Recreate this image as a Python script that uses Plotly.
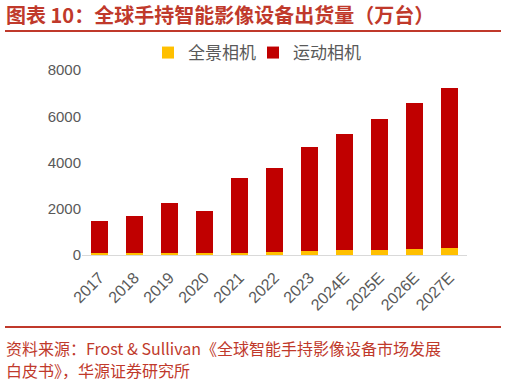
import plotly.graph_objects as go

years = ["2017", "2018", "2019", "2020", "2021", "2022", "2023",
         "2024E", "2025E", "2026E", "2027E"]
panoramic = [70, 75, 80, 90, 100, 130, 170, 195, 230, 260, 290]
totals = [1470, 1690, 2260, 1905, 3330, 3765, 4650, 5235, 5900, 6565, 7230]
action = [t - p for t, p in zip(totals, panoramic)]
yticks = [0, 2000, 4000, 6000, 8000]

title_text = "图表 10：全球手持智能影像设备出货量（万台）"
source_line1 = "资料来源：Frost & Sullivan《全球智能手持影像设备市场发展"
source_line2 = "白皮书》，华源证券研究所"

W, H = 506, 384
L, R, T, B = 82, 39, 70, 129
red_text = "#C0392B"
gray = "#595959"
font_family = "Noto Sans CJK SC, Liberation Sans, Arial, sans-serif"

fig = go.Figure()
fig.add_trace(go.Bar(x=years, y=panoramic, name="全景相机", legend="legend",
                     marker=dict(color="#FFC000", line=dict(width=0))))
fig.add_trace(go.Bar(x=years, y=action, name="运动相机", legend="legend2",
                     marker=dict(color="#C00000", line=dict(width=0))))

pw = W - L - R
ph = H - T - B

def px_x(x):
    return (x - L) / pw

def px_y(y):
    return (H - B - y) / ph

leg_common = dict(orientation="h", xanchor="left", y=px_y(53), yanchor="middle",
                  font=dict(size=17, color=gray, family=font_family),
                  bgcolor="rgba(0,0,0,0)")

fig.update_layout(
    width=W, height=H,
    margin=dict(l=L, r=R, t=T, b=B),
    barmode="stack",
    bargap=0.51,
    plot_bgcolor="white",
    paper_bgcolor="white",
    font=dict(family=font_family, color=gray),
    showlegend=True,
    legend=dict(x=px_x(148), **leg_common),
    legend2=dict(x=px_x(253), **leg_common),
    xaxis=dict(showgrid=False, showline=True, linecolor="#D9D9D9", linewidth=1,
               ticks="", tickangle=-45, ticklabelstandoff=6,
               tickfont=dict(size=16, color=gray, family="Liberation Sans, Arial, sans-serif")),
    yaxis=dict(range=[0, 8000], tickvals=yticks, showgrid=False, showline=False,
               zeroline=False, ticks="",
               tickfont=dict(size=15, color=gray, family="Liberation Sans, Arial, sans-serif")),
)

fig.add_annotation(text="<b>" + title_text + "</b>", xref="paper", yref="paper",
                   x=px_x(4), y=px_y(15), xanchor="left", yanchor="middle",
                   showarrow=False, font=dict(size=20, color=red_text, family=font_family))
fig.add_annotation(text=source_line1, xref="paper", yref="paper",
                   x=px_x(4), y=px_y(348), xanchor="left", yanchor="middle",
                   showarrow=False, font=dict(size=16, color=red_text, family=font_family))
fig.add_annotation(text=source_line2, xref="paper", yref="paper",
                   x=px_x(4), y=px_y(370), xanchor="left", yanchor="middle",
                   showarrow=False, font=dict(size=16, color=red_text, family=font_family))

fig.add_shape(type="line", xref="paper", yref="paper",
              x0=px_x(5), x1=px_x(501), y0=px_y(31), y1=px_y(31),
              line=dict(color="#C0392B", width=2))
fig.add_shape(type="line", xref="paper", yref="paper",
              x0=px_x(5), x1=px_x(501), y0=px_y(327), y1=px_y(327),
              line=dict(color="#C0392B", width=2))

fig.write_html("out.html", config={"displayModeBar": False},
               post_script="document.body.style.margin='0';")
